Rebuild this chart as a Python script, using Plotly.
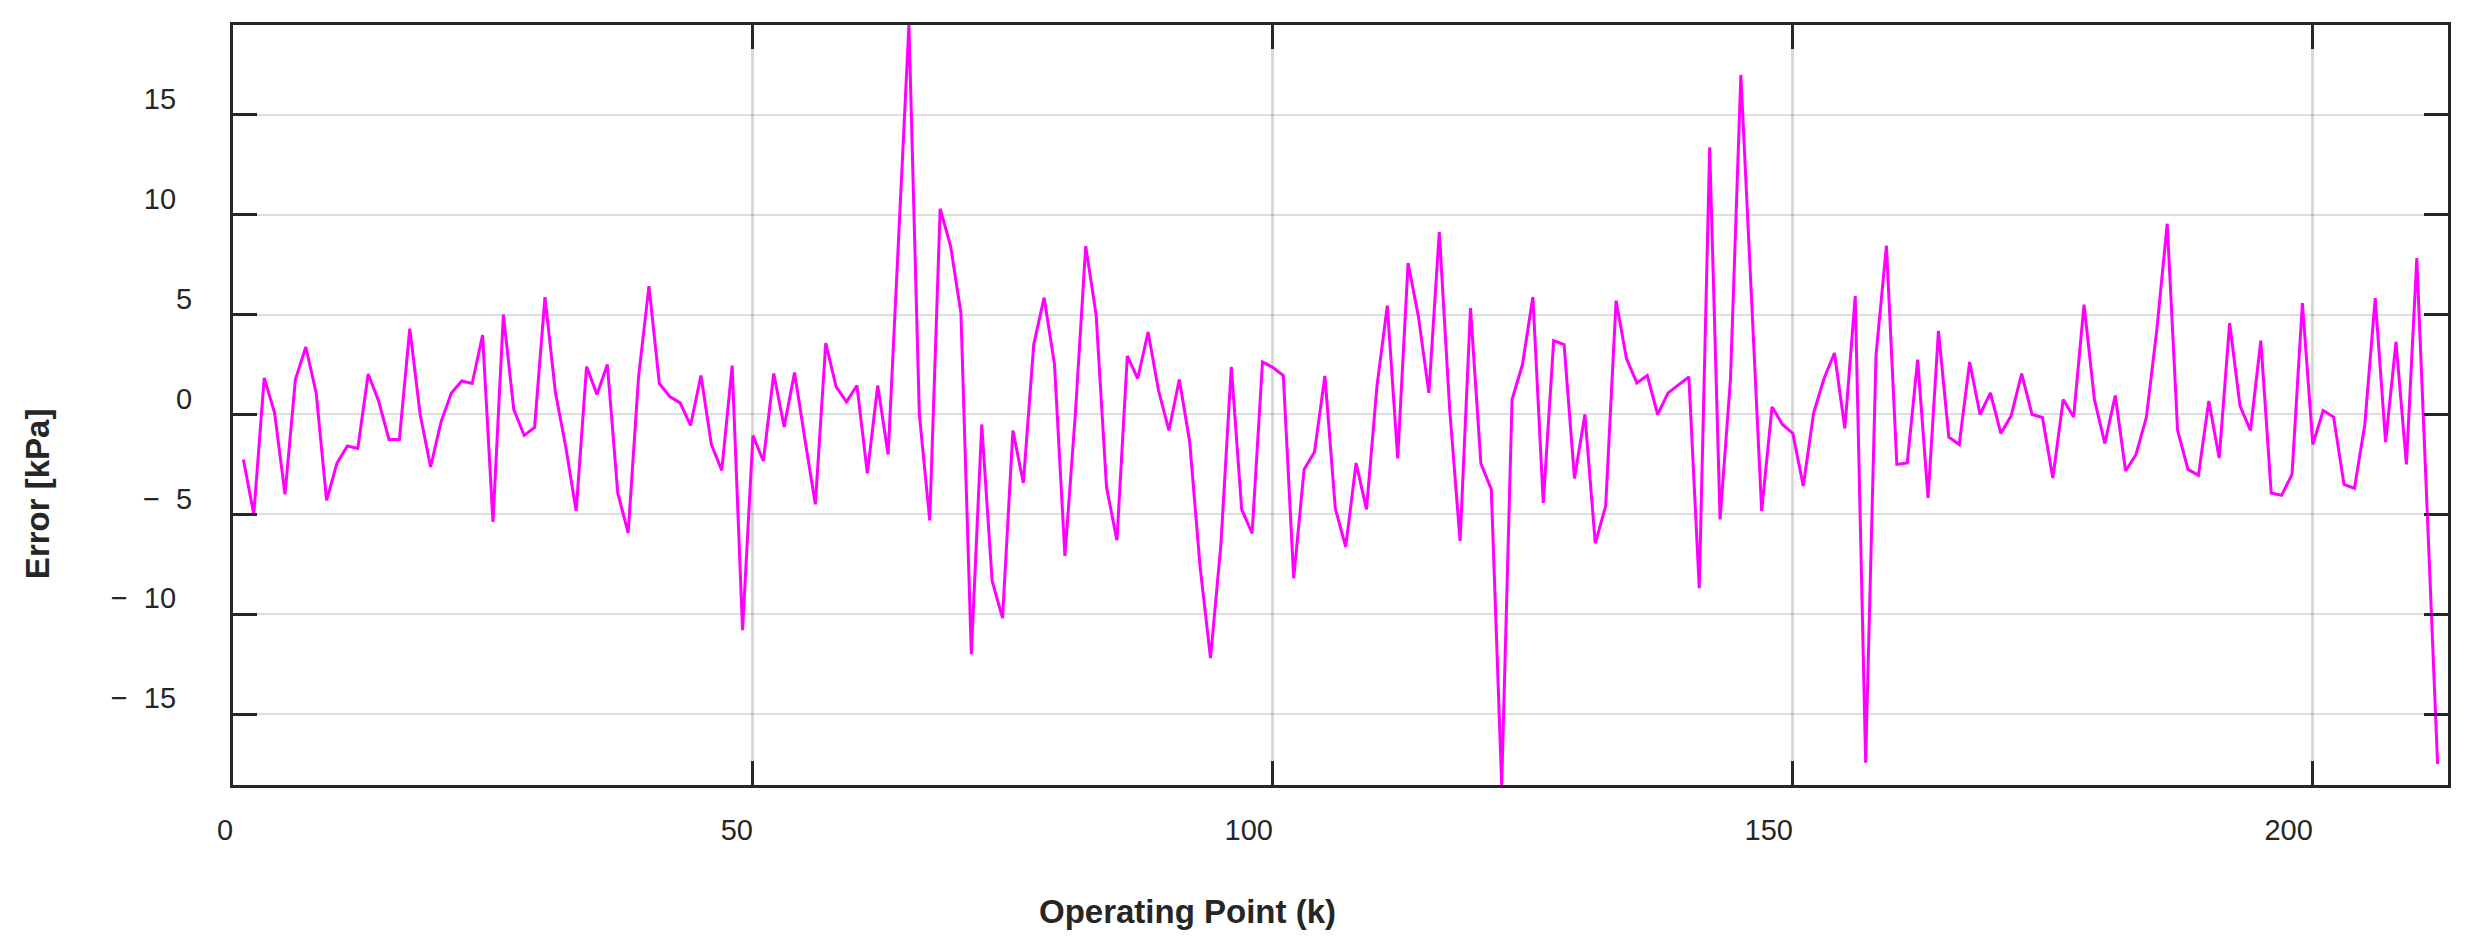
import plotly.graph_objects as go

# Operating point index k = 1..212
k_values = list(range(1, 213))

error_kpa = [
    -2.25, -5.0, 1.83, 0.08, -4.0, 1.75, 3.38, 1.08, -4.3, -2.43,
    -1.58, -1.7, 2.03, 0.68, -1.25, -1.25, 4.3, 0.0, -2.63, -0.38,
    1.08, 1.68, 1.55, 3.98, -5.38, 5.0, 0.25, -1.05, -0.65, 5.88,
    1.13, -1.63, -4.83, 2.4, 1.0, 2.5, -3.93, -5.93, 1.88, 6.43,
    1.55, 0.9, 0.58, -0.55, 1.95, -1.5, -2.8, 2.45, -10.8, -1.05,
    -2.33, 2.05, -0.63, 2.1, -1.25, -4.5, 3.58, 1.38, 0.63, 1.45,
    -2.95, 1.45, -2.0, 8.75, 19.5, 0.0, -5.3, 10.3, 8.45, 5.08,
    -12.0, -0.5, -8.33, -10.2, -0.8, -3.43, 3.5, 5.85, 2.5, -7.08,
    0.0, 8.43, 5.0, -3.63, -6.3, 2.93, 1.8, 4.13, 1.2, -0.8,
    1.75, -1.38, -7.63, -12.2, -6.5, 2.38, -4.75, -5.95, 2.63, 2.35,
    1.95, -8.2, -2.75, -1.88, 1.93, -4.7, -6.63, -2.43, -4.75, 1.38,
    5.45, -2.2, 7.58, 4.88, 1.08, 9.13, 0.25, -6.33, 5.33, -2.45,
    -3.75, -18.55, 0.75, 2.5, 5.88, -4.43, 3.7, 3.5, -3.2, 0.0,
    -6.45, -4.58, 5.7, 2.8, 1.58, 1.95, 0.0, 1.08, 1.5, 1.88,
    -8.7, 13.38, -5.25, 1.75, 17.0, 6.0, -4.83, 0.38, -0.5, -0.95,
    -3.58, 0.08, 1.8, 3.08, -0.7, 5.93, -17.43, 3.0, 8.45, -2.5,
    -2.43, 2.75, -4.18, 4.18, -1.13, -1.5, 2.63, 0.0, 1.08, -0.95,
    -0.05, 2.05, 0.0, -0.15, -3.18, 0.75, -0.13, 5.5, 0.75, -1.45,
    0.95, -2.83, -2.0, -0.13, 4.25, 9.55, -0.8, -2.75, -3.05, 0.68,
    -2.18, 4.58, 0.43, -0.8, 3.7, -3.93, -4.05, -3.0, 5.58, -1.5,
    0.2, -0.13, -3.5, -3.7, -0.5, 5.83, -1.38, 3.63, -2.5, 7.83,
    -5.0, -17.5,
]

x_tickvals = [0, 50, 100, 150, 200]
x_ticklabels = ["0", "50", "100", "150", "200"]
y_tickvals = [-15, -10, -5, 0, 5, 10, 15]
y_ticklabels = ["\u2212  15", "\u2212  10", "\u2212  5", "0", "5", "10", "15"]

x_title = "Operating Point (k)"
y_title = "Error [kPa]"

TXT = "#262626"
FONT = "Liberation Sans, Arial, sans-serif"
NB = "\u00a0"

# label placement: x labels end at their tick, 2-digit y labels sit further left
x_ticktext = [t + NB * (2 * len(t)) for t in x_ticklabels]
y_ticktext = [t + (NB * 2 if sum(c.isdigit() for c in t) == 2 else "") for t in y_ticklabels]

fig = go.Figure()
fig.add_trace(go.Scatter(
    x=k_values, y=error_kpa, mode="lines",
    line=dict(color="#FF00FF", width=3),
    showlegend=False,
))

axis_common = dict(
    showline=True, linecolor=TXT, linewidth=3, mirror="ticks",
    ticks="inside", ticklen=24, tickwidth=3, tickcolor=TXT,
    showgrid=True, zeroline=False,
    tickfont=dict(family=FONT, size=29, color=TXT),
)

fig.update_layout(
    width=2467, height=943,
    margin=dict(l=225, r=27, t=17, b=166),
    paper_bgcolor="white", plot_bgcolor="white",
    font=dict(family=FONT, color=TXT),
    xaxis=dict(range=[0, 213], tickvals=x_tickvals, ticktext=x_ticktext,
               gridcolor="rgba(0,0,0,0.15)", gridwidth=3,
               ticklabelstandoff=17, **axis_common),
    yaxis=dict(range=[-18.55, 19.5], tickvals=y_tickvals, ticktext=y_ticktext,
               gridcolor="rgba(0,0,0,0.13)", gridwidth=2,
               ticklabelshift=-16, ticklabelstandoff=32, **axis_common),
    annotations=[
        dict(text="<b>%s</b>" % x_title, xref="paper", yref="paper",
             x=0.431, y=-0.167, xanchor="center", yanchor="middle",
             showarrow=False, font=dict(family=FONT, size=33, color=TXT)),
        dict(text="<b>%s</b>" % y_title, xref="paper", yref="paper",
             x=-0.0885, y=0.384, xanchor="center", yanchor="middle",
             textangle=-90, showarrow=False,
             font=dict(family=FONT, size=33, color=TXT)),
    ],
)

fig.write_html("out.html")
